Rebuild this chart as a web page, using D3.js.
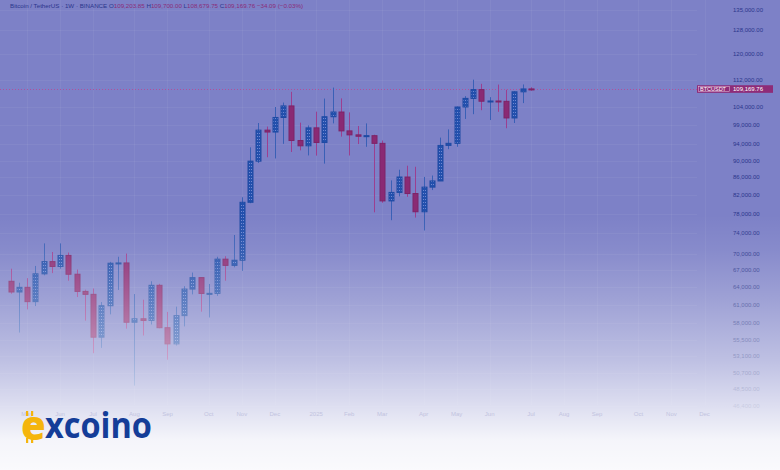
<!DOCTYPE html>
<html><head><meta charset="utf-8">
<script src="https://cdn.jsdelivr.net/npm/d3@7"></script>
<style>html,body{margin:0;padding:0;background:#fff;overflow:hidden}</style>
</head><body><svg id="c" width="780" height="470"></svg>
<script>
const dates=["2024-04-22","2024-04-29","2024-05-06","2024-05-13","2024-05-20","2024-05-27","2024-06-03","2024-06-10","2024-06-17","2024-06-24","2024-07-01","2024-07-08","2024-07-15","2024-07-22","2024-07-29","2024-08-05","2024-08-12","2024-08-19","2024-08-26","2024-09-02","2024-09-09","2024-09-16","2024-09-23","2024-09-30","2024-10-07","2024-10-14","2024-10-21","2024-10-28","2024-11-04","2024-11-11","2024-11-18","2024-11-25","2024-12-02","2024-12-09","2024-12-16","2024-12-23","2024-12-30","2025-01-06","2025-01-13","2025-01-20","2025-01-27","2025-02-03","2025-02-10","2025-02-17","2025-02-24","2025-03-03","2025-03-10","2025-03-17","2025-03-24","2025-03-31","2025-04-07","2025-04-14","2025-04-21","2025-04-28","2025-05-05","2025-05-12","2025-05-19","2025-05-26","2025-06-02","2025-06-09","2025-06-16","2025-06-23","2025-06-30","2025-07-07"];
const opens=[64950,63100,63900,61480,66270,68500,67600,69650,66200,63200,62700,55850,60800,68200,68250,58150,58700,58430,64250,57300,54850,59200,63600,65600,62850,62870,68950,67800,68750,80400,89850,97700,97200,101100,104300,95000,93650,98300,94500,101300,102600,97500,96460,96100,96250,94270,80700,82570,86080,82330,78370,83760,85170,93750,94280,104000,106450,109000,105640,105700,105600,100970,108360,109203.85];
const highs=[67200,64700,65500,67700,71950,70300,71950,70200,67050,63500,63700,61400,68450,69400,70000,62750,61800,64950,64500,59800,60650,64100,66500,65650,64480,69400,69500,73600,81500,93265,99600,98650,104000,105250,108350,99700,98950,102700,106400,109600,106450,102500,98800,99500,96500,95000,85300,87800,88750,88500,86100,86430,95750,97900,104150,107100,111980,110720,106800,110500,108950,108530,110530,109700];
const lows=[62800,56550,60200,60750,66000,66400,67200,65050,62250,58400,53485,54260,59400,63450,57150,49000,56100,57800,57200,52550,54600,57500,62700,59830,58900,62450,65050,67450,66800,80200,89400,90800,90500,94150,92100,92500,91250,91200,89250,99500,96000,91230,94100,93400,78250,80300,76600,81700,81600,77150,74500,83100,85150,92800,93400,100700,102000,103100,100400,102660,98200,99600,105100,108679.75];
const closes=[63100,63900,61480,66270,68500,67600,69650,66200,63200,62700,55850,60800,68200,68250,58150,58700,58430,64250,57300,54850,59200,63600,65600,62850,62870,68950,67800,68750,80400,89850,97700,97200,101100,104300,95000,93650,98300,94500,101300,102600,97500,96460,96100,96250,94270,80700,82570,86080,82330,78370,83760,85170,93750,94280,104000,106450,109000,105640,105700,105600,100970,108360,109200,109169.76];
const priceTicks=[135000,128000,120000,112000,104000,99000,94000,90000,86000,82000,78000,74000,70000,67000,64000,61000,58000,55500,53100,50700,48500,46400];
const monthTickDates=["2024-05-06","2024-06-03","2024-07-01","2024-08-05","2024-09-02","2024-10-07","2024-11-04","2024-12-02","2025-01-06","2025-02-03","2025-03-03","2025-04-07","2025-05-05","2025-06-02","2025-07-07","2025-08-04","2025-09-01","2025-10-06","2025-11-03","2025-12-01"];
const monthTickLabels=["May","Jun","Jul","Aug","Sep","Oct","Nov","Dec","2025","Feb","Mar","Apr","May","Jun","Jul","Aug","Sep","Oct","Nov","Dec"];
const symbolTitle="Bitcoin / TetherUS · 1W · BINANCE";
const ohlcLabels=["O","H","L","C"];
const ohlcValues=["109,203.85","109,700.00","108,679.75","109,169.76"];
const changeText="−34.09 (−0.03%)";
const lastPrice=109169.76;
const tickerName="BTCUSDT";

const svg=d3.select("#c");
const defs=svg.append("defs");
const pb=defs.append("pattern").attr("id","pb").attr("width",2).attr("height",3).attr("patternUnits","userSpaceOnUse");
pb.append("rect").attr("width",2).attr("height",3).attr("fill","#2350ad");
pb.append("rect").attr("x",1).attr("y",1).attr("width",1).attr("height",1).attr("fill","#7088d2");
const fg=defs.append("linearGradient").attr("id","fade").attr("gradientUnits","userSpaceOnUse")
  .attr("x1",0).attr("y1",0).attr("x2",0).attr("y2",470);
[[0,0],[215,0],[250,0.08],[300,0.26],[360,0.5],[400,0.71],[440,0.92],[470,0.96]]
  .forEach(([yy,a])=>fg.append("stop").attr("offset",yy/470).attr("stop-color","#fff").attr("stop-opacity",a));

svg.append("rect").attr("width",780).attr("height",470).attr("fill","#7d81c7");

const parse=d3.utcParse("%Y-%m-%d");
const x=d3.scaleUtc().domain([parse("2024-04-22"),parse("2025-07-07")]).range([10.5,531]);
const y=d3.scaleLog().domain([74000,104000]).range([233,107]);

// grid
const grid=svg.append("g").attr("stroke","#ffffff").attr("stroke-opacity",0.05).attr("stroke-width",1);
grid.selectAll("line.h").data(priceTicks).join("line").attr("x1",0).attr("x2",697)
  .attr("y1",d=>Math.round(y(d))+0.5).attr("y2",d=>Math.round(y(d))+0.5);
grid.selectAll("line.v").data(monthTickDates).join("line").attr("y1",0).attr("y2",405)
  .attr("x1",d=>Math.round(x(parse(d)))+0.5).attr("x2",d=>Math.round(x(parse(d)))+0.5);

// last price dashed line
svg.append("line").attr("x1",0).attr("x2",697).attr("y1",Math.round(y(lastPrice))+0.5).attr("y2",Math.round(y(lastPrice))+0.5)
  .attr("stroke","#b0509c").attr("stroke-width",1).attr("stroke-dasharray","1,2");

// candles
const data=dates.map((d,i)=>({d:parse(d),o:opens[i],h:highs[i],l:lows[i],c:closes[i]}));
const cg=svg.append("g");
const cs=cg.selectAll("g").data(data).join("g");
cs.append("line")
  .attr("x1",d=>Math.round(x(d.d))+0.5).attr("x2",d=>Math.round(x(d.d))+0.5)
  .attr("y1",d=>y(d.h)).attr("y2",d=>y(d.l))
  .attr("stroke",d=>d.c>=d.o?"#3a60b6":"#9c3f90").attr("stroke-width",1);
cs.append("rect")
  .attr("x",d=>Math.round(x(d.d))-2)
  .attr("width",5)
  .attr("y",d=>Math.min(y(d.o),y(d.c)))
  .attr("height",d=>Math.max(1,Math.abs(y(d.o)-y(d.c))))
  .attr("fill",d=>d.c>=d.o?"url(#pb)":"#8a2a74")
  .attr("stroke",d=>d.c>=d.o?"#1e4aa3":"#7c2468").attr("stroke-width",1);

// y axis labels
svg.append("g").selectAll("text").data(priceTicks).join("text")
  .attr("x",733).attr("y",d=>y(d)+2)
  .attr("font-family","Liberation Sans, Arial, sans-serif").attr("font-size",6)
  .attr("fill","#2b368c").text(d=>d3.format(",.2f")(d));

// fade overlay
svg.append("rect").attr("width",780).attr("height",470).attr("fill","url(#fade)");

// price label
const py=y(lastPrice);
svg.append("rect").attr("x",697).attr("y",py-3.8).attr("width",76).attr("height",7.6).attr("fill","#8e2c78");
svg.append("rect").attr("x",698.5).attr("y",py-2.6).attr("width",31).attr("height",5.2).attr("fill","none").attr("stroke","#e8c8e0").attr("stroke-width",0.5);
svg.append("text").attr("x",700).attr("y",py+2).attr("font-family","Liberation Sans, Arial, sans-serif").attr("font-size",5.5).attr("fill","#fff").text(tickerName);
svg.append("text").attr("x",733).attr("y",py+2).attr("font-family","Liberation Sans, Arial, sans-serif").attr("font-size",6).attr("fill","#fff").text(d3.format(",.2f")(lastPrice));

// x axis labels
svg.append("g").selectAll("text").data(monthTickDates).join("text")
  .attr("x",d=>x(parse(d))).attr("y",416).attr("text-anchor","middle")
  .attr("font-family","Liberation Sans, Arial, sans-serif").attr("font-size",6)
  .attr("fill","#c2c3e0").text((d,i)=>monthTickLabels[i]);

// header
const hdr=svg.append("text").attr("x",10).attr("y",7.5).attr("font-family","Liberation Sans, Arial, sans-serif").attr("font-size",6.2).attr("fill","#2b368c");
hdr.append("tspan").text(symbolTitle+"  ");
ohlcLabels.forEach((l,i)=>{
  hdr.append("tspan").attr("fill","#2b368c").text(l);
  hdr.append("tspan").attr("fill","#8a2c78").text(ohlcValues[i]+"  ");
});
hdr.append("tspan").attr("fill","#8a2c78").text(changeText);

// logo
const logo=svg.append("g");
logo.append("text").attr("x",21).attr("y",440).attr("font-family","Open Sans, Liberation Sans, sans-serif")
  .attr("font-weight",800).attr("font-size",40).attr("fill","#f5b50c").text("e");
[[26,411,2.2,5],[31,411,2.2,5],[26,438,2.2,5],[31,438,2.2,5]].forEach(r=>
  logo.append("rect").attr("x",r[0]).attr("y",r[1]).attr("width",r[2]).attr("height",r[3]).attr("fill","#f5b50c"));
logo.append("text").attr("x",45).attr("y",438).attr("font-family","Open Sans, Liberation Sans, sans-serif")
  .attr("font-weight",700).attr("font-size",35).attr("fill","#143d98")
  .attr("textLength",107).attr("lengthAdjust","spacingAndGlyphs").text("xcoino");
</script></body></html>
